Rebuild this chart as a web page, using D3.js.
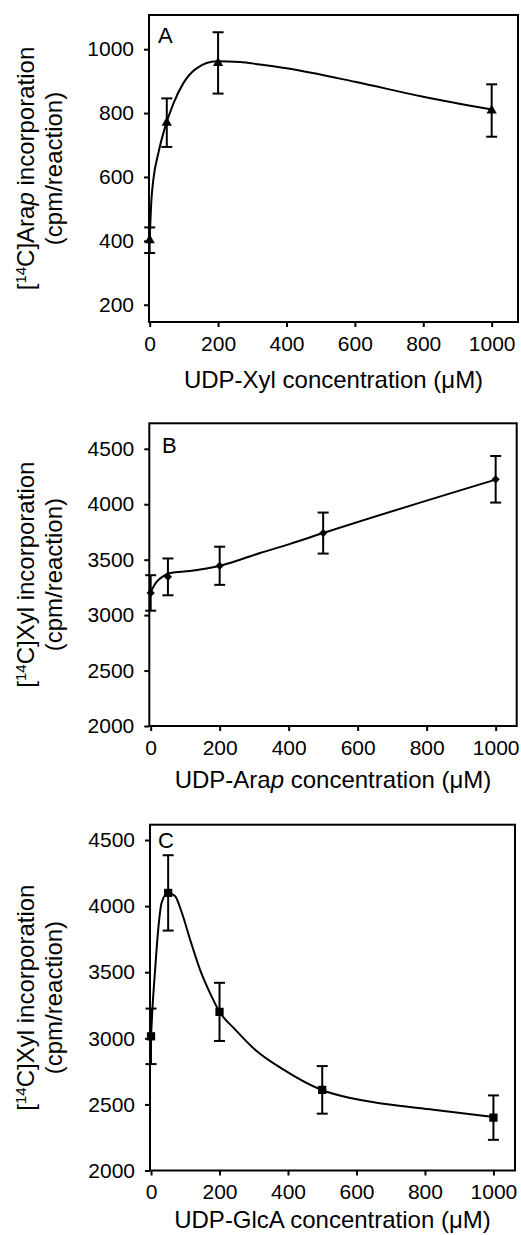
<!DOCTYPE html>
<html>
<head>
<meta charset="utf-8">
<script src="https://cdn.jsdelivr.net/npm/d3@7"></script>
<style>
  body { margin: 0; background: #fff; }
  svg { display: block; font-family: "Liberation Sans", Arial, sans-serif; }
</style>
</head>
<body>
<div class="chart-container"></div>
<script>
// measured data (concentration in uM)
const concA = [0, 50, 200, 1000];
const meanA = [402, 770, 957, 808];
const errA = [40, 76, 96, 82];

const concB = [0, 50, 200, 500, 1000];
const meanB = [3200, 3345, 3445, 3740, 4225];
const errB = [160, 166, 172, 185, 210];

const concC = [0, 50, 200, 500, 1000];
const meanC = [3015, 4100, 3200, 2610, 2400];
const errC = [210, 285, 220, 180, 168];

// fitted curves
const fitAx = [0, 5, 10.5, 25, 45, 69, 98, 137, 196, 264, 322, 400, 600, 800, 1000];
const fitAy = [402, 527, 590, 673, 756, 829, 893, 940, 962, 960, 952, 940, 898, 851, 811];
const fitBx = [0, 17, 37, 56, 114, 198, 259, 317, 400, 500, 1000];
const fitBy = [3210, 3300, 3353, 3380, 3398, 3443, 3500, 3560, 3638, 3740, 4222];
const fitCx = [0, 4, 12, 21, 31, 49, 70, 90, 114, 143, 172, 199, 246, 304, 387, 497, 582, 679, 825, 1000];
const fitCy = [3015, 3218, 3520, 3824, 4025, 4101, 4076, 3950, 3748, 3520, 3344, 3205, 3066, 2914, 2763, 2611, 2548, 2505, 2460, 2404];

const xTicks = [0, 200, 400, 600, 800, 1000];
const yTicksA = [200, 400, 600, 800, 1000];
const yTicksBC = [2000, 2500, 3000, 3500, 4000, 4500];

const width = 521;
const height = 1235;

const svg = d3.select(".chart-container")
  .append("svg")
  .attr("width", width)
  .attr("height", height);

svg.append("rect").attr("width", width).attr("height", height).attr("fill", "#fff");

const panels = [
  {
    letter: "A", letterPos: [158, 43],
    conc: concA, mean: meanA, err: errA, fx: fitAx, fy: fitAy,
    xDomain: [-2, 1077], xRange: [149, 518],
    yDomain: [146, 1107], yRange: [322, 15],
    yTicks: yTicksA, marker: d3.symbolTriangle, markerSize: 46, rotate: 0,
    yTitle: ["[", "14", "C]Ara", "p", " incorporation"],
    xTitle: ["UDP-Xyl concentration (\u03BCM)"],
    xTitleY: 388
  },
  {
    letter: "B", letterPos: [162, 453],
    conc: concB, mean: meanB, err: errB, fx: fitBx, fy: fitBy,
    xDomain: [-4, 1061], xRange: [149.3, 516.7],
    yDomain: [2000, 4730], yRange: [726, 423.3],
    yTicks: yTicksBC, marker: d3.symbolSquare, markerSize: 34, rotate: 45,
    yTitle: ["[", "14", "C]Xyl incorporation", "", ""],
    xTitle: ["UDP-Ara", "p", " concentration (\u03BCM)"],
    xTitleY: 788
  },
  {
    letter: "C", letterPos: [158, 848],
    conc: concC, mean: meanC, err: errC, fx: fitCx, fy: fitCy,
    xDomain: [-3, 1063], xRange: [150, 515],
    yDomain: [2000, 4616], yRange: [1170.5, 824.7],
    yTicks: yTicksBC, marker: d3.symbolSquare, markerSize: 68, rotate: 0,
    yTitle: ["[", "14", "C]Xyl incorporation", "", ""],
    xTitle: ["UDP-GlcA concentration (\u03BCM)"],
    xTitleY: 1228
  }
];

panels.forEach(function(p) {
  const x = d3.scaleLinear().domain(p.xDomain).range(p.xRange);
  const y = d3.scaleLinear().domain(p.yDomain).range(p.yRange);
  const g = svg.append("g");

  const xAxis = d3.axisBottom(x).tickValues(xTicks).tickFormat(d3.format("d"))
    .tickSize(5).tickSizeOuter(0).tickPadding(9);
  const yAxis = d3.axisLeft(y).tickValues(p.yTicks).tickFormat(d3.format("d"))
    .tickSize(5).tickSizeOuter(0).tickPadding(10);

  const gx = g.append("g")
    .attr("transform", "translate(0," + p.yRange[0] + ")")
    .call(xAxis);
  const gy = g.append("g")
    .attr("transform", "translate(" + p.xRange[0] + ",0)")
    .call(yAxis);

  [gx, gy].forEach(function(a) {
    a.select(".domain").remove();
    a.selectAll(".tick line").attr("stroke", "#000").attr("stroke-width", 2);
    a.selectAll(".tick text")
      .attr("fill", "#000")
      .style("font-size", "21px")
      .style("font-family", "'Liberation Sans', Arial, sans-serif");
  });

  // frame
  g.append("rect")
    .attr("x", p.xRange[0])
    .attr("y", p.yRange[1])
    .attr("width", p.xRange[1] - p.xRange[0])
    .attr("height", p.yRange[0] - p.yRange[1])
    .attr("fill", "none")
    .attr("stroke", "#000")
    .attr("stroke-width", 2);

  // fitted curve
  const line = d3.line()
    .x(function(d) { return x(d[0]); })
    .y(function(d) { return y(d[1]); })
    .curve(d3.curveMonotoneX);
  g.append("path")
    .datum(p.fx.map(function(v, i) { return [v, p.fy[i]]; }))
    .attr("d", line)
    .attr("fill", "none")
    .attr("stroke", "#000")
    .attr("stroke-width", 2);

  // error bars
  const capHalf = 5.5;
  const bars = g.selectAll(".err")
    .data(p.conc)
    .enter()
    .append("g")
    .attr("class", "err");
  bars.append("line")
    .attr("x1", function(d) { return x(d); })
    .attr("x2", function(d) { return x(d); })
    .attr("y1", function(d, i) { return y(p.mean[i] + p.err[i]); })
    .attr("y2", function(d, i) { return y(p.mean[i] - p.err[i]); });
  bars.append("line")
    .attr("x1", function(d) { return x(d) - capHalf; })
    .attr("x2", function(d) { return x(d) + capHalf; })
    .attr("y1", function(d, i) { return y(p.mean[i] + p.err[i]); })
    .attr("y2", function(d, i) { return y(p.mean[i] + p.err[i]); });
  bars.append("line")
    .attr("x1", function(d) { return x(d) - capHalf; })
    .attr("x2", function(d) { return x(d) + capHalf; })
    .attr("y1", function(d, i) { return y(p.mean[i] - p.err[i]); })
    .attr("y2", function(d, i) { return y(p.mean[i] - p.err[i]); });
  bars.selectAll("line").attr("stroke", "#000").attr("stroke-width", 2);

  // markers
  g.selectAll(".pt")
    .data(p.conc)
    .enter()
    .append("path")
    .attr("class", "pt")
    .attr("d", d3.symbol().type(p.marker).size(p.markerSize))
    .attr("transform", function(d, i) {
      return "translate(" + x(d) + "," + y(p.mean[i]) + ") rotate(" + p.rotate + ")";
    })
    .attr("fill", "#000");

  // panel letter
  g.append("text")
    .attr("x", p.letterPos[0])
    .attr("y", p.letterPos[1])
    .style("font-size", "22px")
    .text(p.letter);

  // y title, two lines
  const cy = (p.yRange[0] + p.yRange[1]) / 2;
  const t1 = g.append("text")
    .attr("transform", "translate(34," + cy + ") rotate(-90)")
    .attr("text-anchor", "middle")
    .style("font-size", "24px");
  t1.append("tspan").text(p.yTitle[0]);
  t1.append("tspan").attr("baseline-shift", "super").style("font-size", "15px").text(p.yTitle[1]);
  t1.append("tspan").text(p.yTitle[2]);
  if (p.yTitle[3]) t1.append("tspan").style("font-style", "italic").text(p.yTitle[3]);
  if (p.yTitle[4]) t1.append("tspan").text(p.yTitle[4]);

  g.append("text")
    .attr("transform", "translate(62," + cy + ") rotate(-90)")
    .attr("text-anchor", "middle")
    .style("font-size", "24px")
    .text("(cpm/reaction)");

  // x title
  const xt = g.append("text")
    .attr("x", (p.xRange[0] + p.xRange[1]) / 2)
    .attr("y", p.xTitleY)
    .attr("text-anchor", "middle")
    .style("font-size", "24px");
  xt.append("tspan").text(p.xTitle[0]);
  if (p.xTitle[1]) {
    xt.append("tspan").style("font-style", "italic").text(p.xTitle[1]);
    xt.append("tspan").text(p.xTitle[2]);
  }
});
</script>
</body>
</html>
